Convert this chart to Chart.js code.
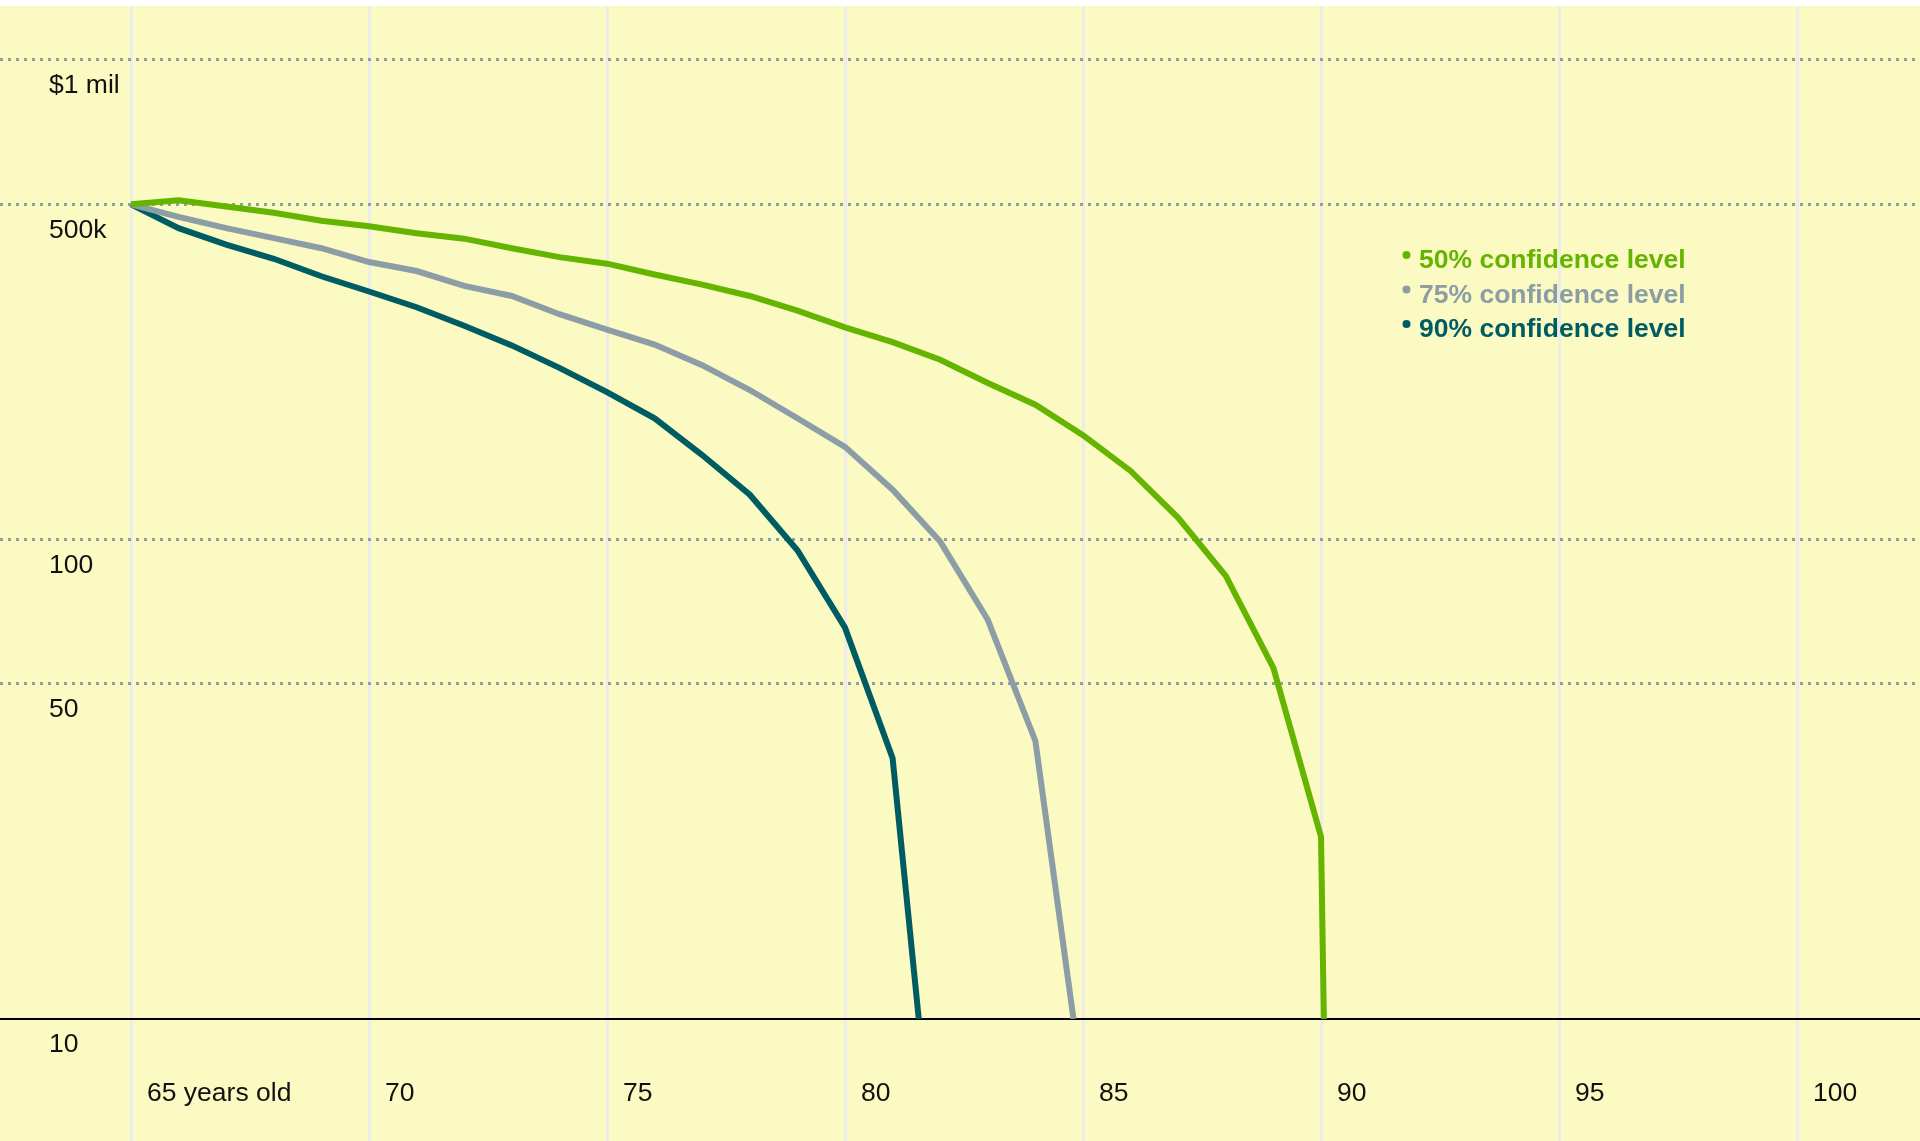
<!DOCTYPE html>
<html lang="en">
<head>
    <meta charset="UTF-8">
    <title>Savings by confidence level</title>
    <script src="https://cdn.jsdelivr.net/npm/chart.js"></script>
    <style>
        * {
            margin: 0;
            padding: 0;
            box-sizing: border-box;
        }
        html, body {
            width: 1920px;
            height: 1141px;
            overflow: hidden;
            background: #ffffff;
        }
        .chart-container {
            position: absolute;
            left: 0;
            top: 6px;
            width: 1920px;
            height: 1135px;
            background: #fafac2;
        }
    </style>
</head>
<body>
    <div class="chart-container">
        <canvas id="myChart" width="1920" height="1135"></canvas>
    </div>
    <script>
        // ages along the x axis, one point per year
        var ages = [65, 66, 67, 68, 69, 70, 71, 72, 73, 74, 75, 76, 77, 78, 79, 80, 81, 82, 83, 84, 85, 86, 87, 88, 89, 90];

        // remaining savings ($) per year
        var conf50 = [500000, 510000, 495000, 480000, 462000, 450000, 435000, 424000, 405000, 388000, 376000, 357000, 340000,
                      322000, 300000, 277000, 258000, 237000, 212000, 191000, 165000, 139000, 111000, 84000, 54000, 24000];
        var conf75 = [500000, 471000, 446000, 425000, 405000, 379000, 363000, 338000, 322000, 295000, 274000, 255000, 231000,
                      205000, 179000, 156000, 127000, 99000, 68000, 38000];
        var conf90 = [500000, 446000, 412000, 385000, 354000, 329000, 305000, 279000, 254000, 228000, 203000, 179000, 150000,
                      124000, 95000, 65500, 35000];

        // age where each line falls to the floor of the chart
        var depletedAt = [90.06, 84.8, 81.55];
        var floorValue = 10000;

        var seriesLabels = ['50% confidence level', '75% confidence level', '90% confidence level'];
        var seriesColors = ['#64b400', '#8c9da6', '#005c63'];

        var xTicks = [65, 70, 75, 80, 85, 90, 95, 100];
        var xTickLabels = ['65 years old', '70', '75', '80', '85', '90', '95', '100'];
        var yTicks = [10000, 50000, 100000, 500000, 1000000];
        var yTickLabels = ['10', '50', '100', '500k', '$1 mil'];

        var fontFamily = '"Liberation Sans", Arial, Helvetica, sans-serif';

        function toPoints(values, endAge) {
            var pts = values.map(function (v, i) {
                return { x: ages[i], y: v };
            });
            pts.push({ x: endAge, y: floorValue });
            return pts;
        }

        // no extra room around the plot for overflowing labels
        function noPadding(scale) {
            scale.paddingTop = 0;
            scale.paddingBottom = 0;
            scale.paddingLeft = 0;
            scale.paddingRight = 0;
        }

        // legend drawn inside the plot, right of the curves
        var insideLegend = {
            id: 'insideLegend',
            afterDatasetsDraw: function (chart) {
                var ctx = chart.ctx;
                ctx.save();
                ctx.font = 'bold 26.5px ' + fontFamily;
                ctx.textBaseline = 'alphabetic';
                ctx.textAlign = 'left';
                chart.data.datasets.forEach(function (ds, i) {
                    var y = 262 + i * 34.5;
                    ctx.fillStyle = ds.borderColor;
                    ctx.beginPath();
                    ctx.arc(1406.5, y - 13, 4, 0, Math.PI * 2);
                    ctx.fill();
                    ctx.fillText(ds.label, 1419, y);
                });
                ctx.restore();
            }
        };

        var datasets = [conf50, conf75, conf90].map(function (vals, i) {
            return {
                label: seriesLabels[i],
                data: toPoints(vals, depletedAt[i]),
                borderColor: seriesColors[i],
                backgroundColor: seriesColors[i],
                borderWidth: 6,
                pointRadius: 0,
                pointHoverRadius: 0,
                fill: false,
                tension: 0
            };
        });

        var pxPerYear = 47.6;
        var xMin = 65 - 131 / pxPerYear;
        var xMax = xMin + 1920 / pxPerYear;

        var ctx = document.getElementById('myChart').getContext('2d');
        var myChart = new Chart(ctx, {
            type: 'line',
            data: { datasets: datasets },
            plugins: [insideLegend],
            options: {
                responsive: false,
                animation: false,
                layout: { padding: 0 },
                plugins: {
                    legend: { display: false },
                    tooltip: { enabled: false }
                },
                scales: {
                    x: {
                        type: 'linear',
                        min: xMin,
                        max: xMax,
                        afterBuildTicks: function (scale) {
                            scale.ticks = xTicks.map(function (v) { return { value: v }; });
                        },
                        afterFit: function (scale) {
                            scale.height = 122;
                            noPadding(scale);
                        },
                        grid: {
                            color: '#ececea',
                            lineWidth: 3,
                            drawTicks: true,
                            tickLength: 122
                        },
                        border: { display: true, color: '#000000', width: 2 },
                        ticks: {
                            align: 'start',
                            labelOffset: 16,
                            padding: -63,
                            maxRotation: 0,
                            autoSkip: false,
                            color: '#111111',
                            font: { family: fontFamily, size: 26.5 },
                            callback: function (value, index) {
                                return xTickLabels[index];
                            }
                        }
                    },
                    y: {
                        type: 'logarithmic',
                        min: 10000,
                        max: 1296000,
                        afterBuildTicks: function (scale) {
                            scale.ticks = yTicks.map(function (v) { return { value: v }; });
                        },
                        afterFit: function (scale) {
                            scale.width = 0;
                            noPadding(scale);
                        },
                        grid: {
                            color: function (c) {
                                return c.tick && c.tick.value === 10000 ? 'rgba(0,0,0,0)' : '#8e9ea8';
                            },
                            lineWidth: 3,
                            drawTicks: false
                        },
                        border: { display: false, dash: [3, 5] },
                        ticks: {
                            mirror: true,
                            padding: 49,
                            labelOffset: 26,
                            autoSkip: false,
                            color: '#111111',
                            font: { family: fontFamily, size: 26.5 },
                            callback: function (value, index) {
                                return yTickLabels[index];
                            }
                        }
                    }
                }
            }
        });
    </script>
</body>
</html>
